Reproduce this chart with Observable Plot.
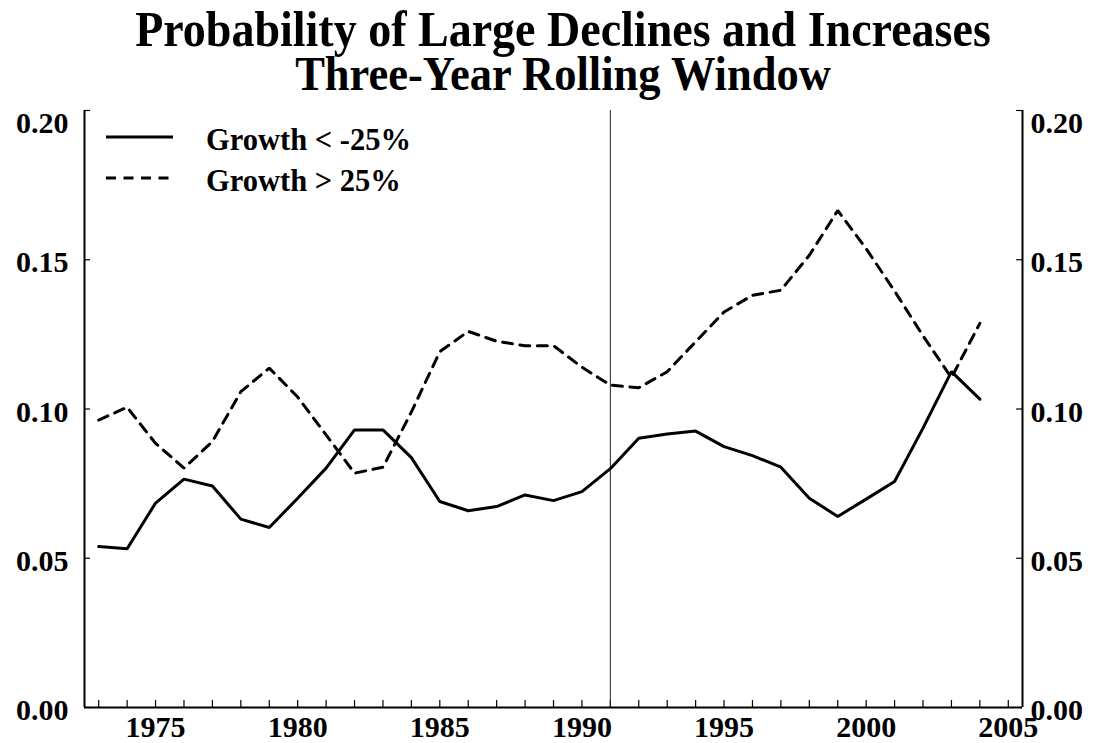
<!DOCTYPE html>
<html>
<head>
<meta charset="utf-8">
<script src="https://cdn.jsdelivr.net/npm/d3@7"></script>
<script src="https://cdn.jsdelivr.net/npm/@observablehq/plot@0.6"></script>
<style>
  body { margin: 0; background: #fff; }
  #wrap { position: relative; width: 1096px; height: 743px; font-family: "Liberation Serif", "Times New Roman", serif; font-weight: bold; color: #000; }
  #title { height: 100px; position: relative; }
  #title div { position: absolute; left: 30px; right: 0; text-align: center; font-size: 46px; line-height: 40px; transform: scaleY(1.1); transform-origin: 50% 100%; }
  .key { position: absolute; left: 106px; height: 40px; display: flex; align-items: center; font-size: 30.5px; }
  .key svg { width: 100px; height: 40px; }
</style>
</head>
<body>
<div id="wrap">
  <div id="title">
    <div style="top:11px">Probability of Large Declines and Increases</div>
    <div style="top:55px; font-size:44.5px">Three-Year Rolling Window</div>
  </div>
  <div id="chart"></div>
  <div class="key" style="top:120px"><svg><line x1="0" x2="67" y1="17" y2="17" stroke="#000" stroke-width="3"/></svg><span>Growth &lt; -25%</span></div>
  <div class="key" style="top:161px"><svg><line x1="0" x2="66" y1="17" y2="17" stroke="#000" stroke-width="3" stroke-dasharray="10,7.5"/></svg><span>Growth &gt; 25%</span></div>
</div>
<script>
// Years covered by the three-year rolling window
const years = d3.range(1973, 2005);

// Share of observations with growth below -25%
const declines = [
  0.0539, 0.0532, 0.0685, 0.0765, 0.0742, 0.0631, 0.0603, 0.0701,
  0.0802, 0.0930, 0.0930, 0.0837, 0.0690, 0.0659, 0.0673, 0.0712,
  0.0693, 0.0723, 0.0800, 0.0902, 0.0916, 0.0926, 0.0874, 0.0844,
  0.0805, 0.0701, 0.0640, 0.0698, 0.0757, 0.0936, 0.1125, 0.1033
];

// Share of observations with growth above 25%
const increases = [
  0.0963, 0.1006, 0.0885, 0.0802, 0.0891, 0.1058, 0.1137, 0.1040,
  0.0913, 0.0785, 0.0805, 0.0990, 0.1192, 0.1260, 0.1227, 0.1212,
  0.1212, 0.1140, 0.1080, 0.1071, 0.1125, 0.1225, 0.1325, 0.1381,
  0.1398, 0.1515, 0.1665, 0.1537, 0.1395, 0.1245, 0.1105, 0.1287
];

// Axis ticks
const xLabelTicks = [1975, 1980, 1985, 1990, 1995, 2000, 2005];
const xMinorTicks = d3.range(1973, 2006);
const yTicks = [0, 0.05, 0.10, 0.15, 0.20];
const markerYear = 1991;

const xDomain = [1972.5, 2005.5];
const yDomain = [0, 0.20];

const W = 1096, H = 643;
const mL = 84, mR = 74, mT = 10, mB = 36;
const plotW = W - mL - mR, plotH = H - mT - mB;

const rows = years.map((year, i) => ({year, declines: declines[i], increases: increases[i]}));
const fmt = d3.format(".2f");

const chart = Plot.plot({
  width: W,
  height: H,
  marginLeft: mL,
  marginRight: mR,
  marginTop: mT,
  marginBottom: mB,
  style: {fontFamily: "'Liberation Serif', 'Times New Roman', serif", fontSize: "30px", fontWeight: "bold", background: "#fff", color: "#000", overflow: "visible"},
  x: {domain: xDomain, axis: null},
  y: {domain: yDomain, axis: null},
  marks: [
    // year ticks pointing into the panel
    Plot.ruleX(xMinorTicks, {x: d => d, insetTop: plotH - 7, strokeWidth: 1.2}),
    // value ticks on both sides, pointing inward
    Plot.ruleY(yTicks, {y: d => d, insetRight: plotW - 6, strokeWidth: 1.2}),
    Plot.ruleY(yTicks, {y: d => d, insetLeft: plotW - 6, strokeWidth: 1.2}),
    // reference year
    Plot.ruleX([markerYear], {strokeWidth: 1, stroke: "#222"}),
    // panel border: left, right and bottom
    Plot.ruleX(xDomain, {strokeWidth: 2}),
    Plot.ruleY([0], {strokeWidth: 2}),
    // series
    Plot.line(rows, {x: "year", y: "declines", stroke: "#000", strokeWidth: 3, strokeLinejoin: "miter"}),
    Plot.line(rows, {x: "year", y: "increases", stroke: "#000", strokeWidth: 3, strokeDasharray: "10,7.5", strokeLinejoin: "miter"}),
    // tick labels
    Plot.axisX({ticks: xLabelTicks, tickFormat: d => String(d), tickSize: 0, tickPadding: 8.5, label: null}),
    Plot.axisY({anchor: "left", ticks: yTicks.slice(0, 4), tickFormat: fmt, tickSize: 0, tickPadding: 16, dy: 3, label: null}),
    Plot.axisY({anchor: "left", ticks: [0.20], tickFormat: fmt, tickSize: 0, tickPadding: 16, dy: 13, label: null}),
    Plot.axisY({anchor: "right", ticks: yTicks.slice(0, 4), tickFormat: fmt, tickSize: 0, tickPadding: 8, dy: 3, label: null}),
    Plot.axisY({anchor: "right", ticks: [0.20], tickFormat: fmt, tickSize: 0, tickPadding: 8, dy: 13, label: null})
  ]
});
document.getElementById("chart").appendChild(chart);
</script>
</body>
</html>
